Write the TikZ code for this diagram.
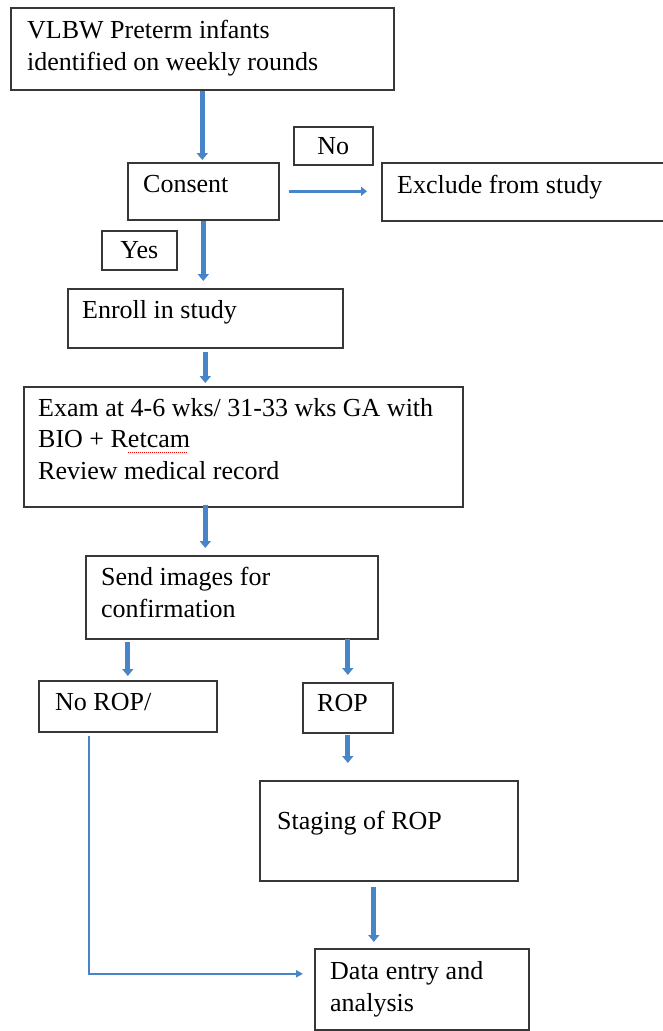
\documentclass[tikz,border=0pt]{standalone}
\usepackage{fontspec}
\setmainfont{Liberation Serif}
\usetikzlibrary{arrows.meta,calc}
\definecolor{flowblue}{RGB}{72,133,200}
\definecolor{boxgray}{RGB}{55,55,55}
\tikzset{
  box/.style={draw=boxgray,line width=1.6pt,inner sep=0pt,anchor=north west,font=\fontsize{26}{31.5}\selectfont},
  txt/.style={inner sep=0pt,anchor=base west,align=left,font=\fontsize{26}{31.5}\selectfont},
  flow/.style={draw=flowblue,line width=5pt,-{Triangle[width=11pt,length=7pt]}},
  thinflow/.style={draw=flowblue,line width=1.8pt,-{Triangle[width=7pt,length=7pt]}},
}
\begin{document}
\begin{tikzpicture}[x=1pt,y=-1pt]
\useasboundingbox (0,0) rectangle (662,1031);
% boxes
\node[box,minimum width=383,minimum height=82] (infants) at (10,7) {};
\node[box,minimum width=151,minimum height=57] (consent) at (127,162) {};
\node[box,minimum width=79,minimum height=38] (no) at (293,126) {No};
\node[box,minimum width=290,minimum height=58] (excl) at (381,162) {};
\node[box,minimum width=75,minimum height=39] (yes) at (101,230) {Yes};
\node[box,minimum width=275,minimum height=59] (enroll) at (67,288) {};
\node[box,minimum width=439,minimum height=120] (exam) at (23,386) {};
\node[box,minimum width=292,minimum height=83] (send) at (85,555) {};
\node[box,minimum width=178,minimum height=51] (norop) at (38,680) {};
\node[box,minimum width=90,minimum height=50] (rop) at (302,682) {};
\node[box,minimum width=258,minimum height=100] (staging) at (259,780) {};
\node[box,minimum width=214,minimum height=81] (data) at (314,948) {};
% texts (base = last line)
\node[txt] (infants-t) at (27,70) {VLBW Preterm infants\\identified on weekly rounds};
\node[txt] (consent-t) at (143,192) {Consent};
\node[txt] (excl-t) at (397,193) {Exclude from study};
\node[txt] (enroll-t) at (82,318) {Enroll in study};
\node[txt] (exam-t) at (38,479) {Exam at 4-6 wks/ 31-33 wks GA with\\BIO + Retcam\\Review medical record};
\node[txt] (send-t) at (101,617) {Send images for\\confirmation};
\node[txt] (norop-t) at (55,710) {No ROP/};
\node[txt] (rop-t) at (317,711) {ROP};
\node[txt] (staging-t) at (277,829) {Staging of ROP};
\node[txt] (data-t) at (330,1011) {Data entry and\\analysis};
% spell-check mark
\draw[red,densely dotted,line width=1pt] (128,452) -- (188,452);
% arrows
\draw[flow,shorten >=2pt] (infants.south) -- (infants.south |- consent.north);
\draw[flow,line width=3.5pt,-{Triangle[width=9pt,length=6pt]},shorten <=9pt,shorten >=14pt] (consent.east) -- (consent.east -| excl.west);
\draw[flow,shorten >=7pt] (consent.south) -- (consent.south |- enroll.north);
\draw[flow,shorten <=3pt,shorten >=3pt] (enroll.south) -- (enroll.south |- exam.north);
\draw[flow,shorten <=-3pt,shorten >=7pt] (exam.south -| enroll.south) -- (enroll.south |- send.north);
\draw[flow,shorten <=2pt,shorten >=4pt] (norop.north |- send.south) -- (norop.north);
\draw[flow,shorten <=-1pt,shorten >=7pt] (rop.north |- send.south) -- (rop.north);
\draw[flow,shorten <=1pt,shorten >=17pt] (rop.south) -- (rop.south |- staging.north);
\draw[flow,shorten <=5pt,shorten >=6pt] ([xshift=-15pt]staging.south) -- ([xshift=-15pt]staging.south |- data.north);
\draw[thinflow,shorten <=3pt,shorten >=11pt] ([xshift=51pt]norop.south west) |- ([yshift=15.5pt]data.west);
\end{tikzpicture}
\end{document}
